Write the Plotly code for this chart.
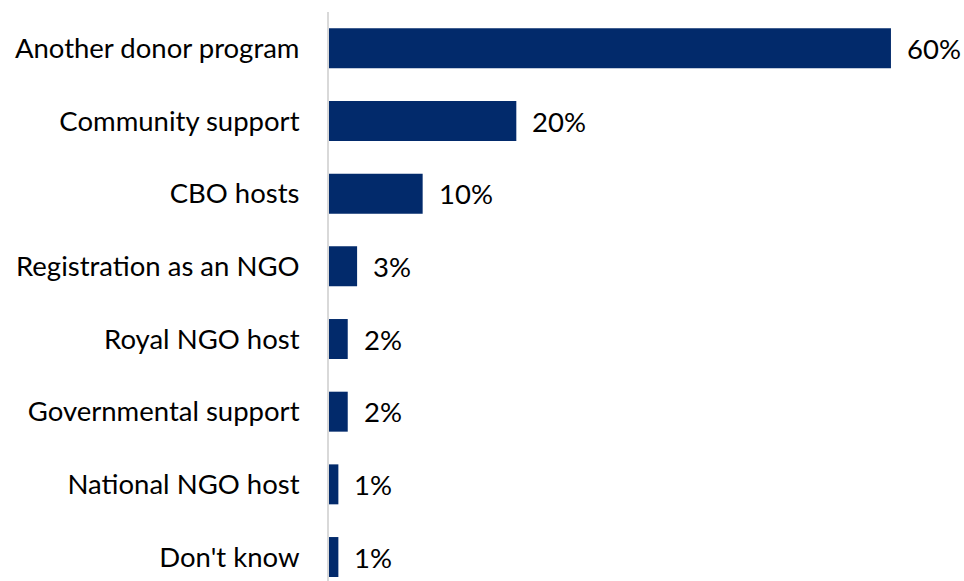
import plotly.graph_objects as go

categories = [
    "Another donor program",
    "Community support",
    "CBO hosts",
    "Registration as an NGO",
    "Royal NGO host",
    "Governmental support",
    "National NGO host",
    "Don't know",
]
values = [60, 20, 10, 3, 2, 2, 1, 1]
labels = ["60%", "20%", "10%", "3%", "2%", "2%", "1%", "1%"]

bar_color = "#022A6B"
font_family = "Lato, 'Open Sans', sans-serif"
font_size = 27.5

fig = go.Figure(
    go.Bar(
        x=values,
        y=categories,
        orientation="h",
        marker=dict(color=bar_color, line=dict(width=0)),
        width=0.55,
        hoverinfo="skip",
    )
)

# value labels placed just past the end of each bar
for cat, val, lab in zip(categories, values, labels):
    fig.add_annotation(
        x=val, y=cat, text=lab, showarrow=False,
        xanchor="left", yanchor="middle", xshift=14,
        font=dict(family=font_family, size=font_size, color="#000000"),
    )

fig.update_layout(
    width=964,
    height=581,
    margin=dict(l=329, r=0, t=12, b=0),
    paper_bgcolor="white",
    plot_bgcolor="white",
    showlegend=False,
    font=dict(family=font_family, size=font_size, color="#000000"),
)
fig.update_xaxes(
    range=[0, 67.8], showgrid=False, zeroline=False,
    showticklabels=False, showline=False, ticks="",
)
fig.update_yaxes(
    type="category",
    categoryorder="array", categoryarray=categories,
    range=[7.33, -0.5],
    showgrid=False, zeroline=False, ticks="",
    showline=True, linecolor="#D9D9D9", linewidth=2,
    ticklabelstandoff=22,
    tickfont=dict(family=font_family, size=font_size, color="#000000"),
)

fig.write_html("out.html")
